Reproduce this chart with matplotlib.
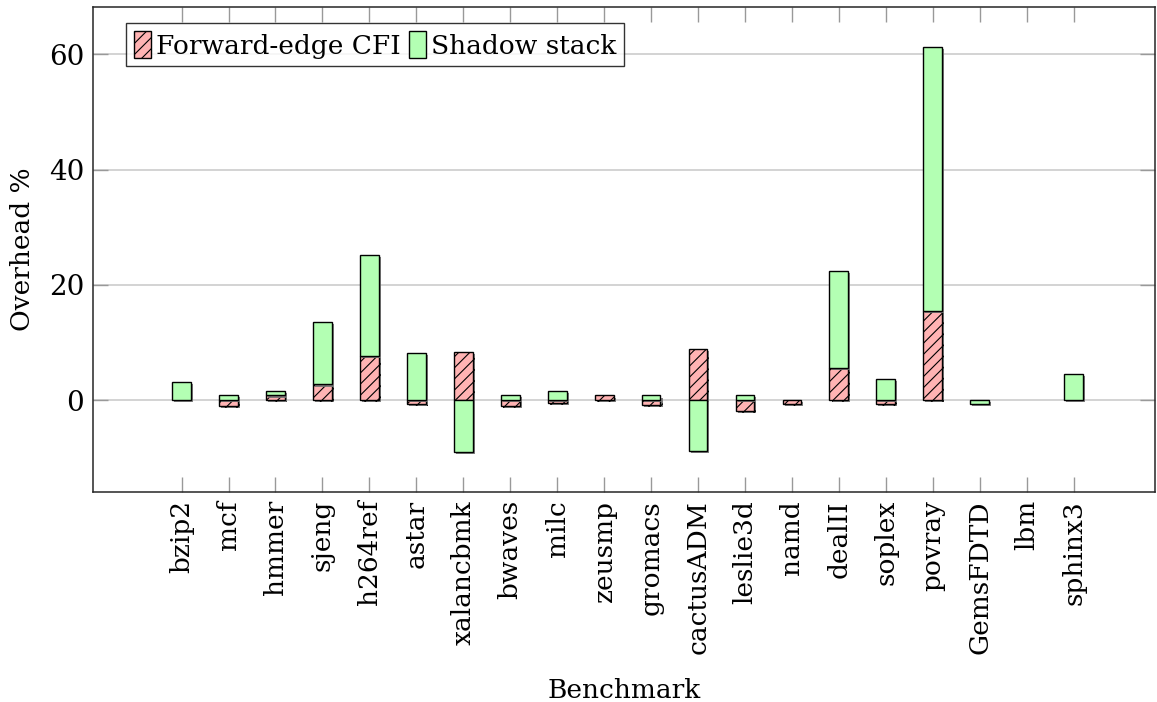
import numpy as np
import matplotlib
matplotlib.use('Agg')
import matplotlib.pyplot as plt
import matplotlib.patheffects as pe
from matplotlib.patches import Patch

plt.rcParams['font.family'] = ['DejaVu Serif']
plt.rcParams['hatch.linewidth'] = 0.8

benchmarks = ['bzip2', 'mcf', 'hmmer', 'sjeng', 'h264ref', 'astar', 'xalancbmk',
              'bwaves', 'milc', 'zeusmp', 'gromacs', 'cactusADM', 'leslie3d',
              'namd', 'dealII', 'soplex', 'povray', 'GemsFDTD', 'lbm', 'sphinx3']
cfi = [0.0, -1.0, 0.8, 2.7, 7.6, -0.6, 8.4, -1.05, -0.45, 0.8, -0.9, 8.8,
       -1.9, -0.7, 5.6, -0.7, 15.5, 0.0, 0.0, 0.0]
shadow = [3.2, 0.85, 0.75, 10.8, 17.5, 8.2, -9.0, 0.95, 1.55, 0.0, 0.8, -8.85,
          0.85, 0.0, 16.8, 3.6, 45.7, -0.6, 0.0, 4.6]

cfi = np.array(cfi)
shadow = np.array(shadow)
x = np.arange(len(benchmarks))
w = 0.4
red = '#ffb3b3'
green = '#b3ffb3'
fs = 19

fig = plt.figure(figsize=(11.57, 7.02), dpi=100)
ax = fig.add_axes([0.0801, 0.2996, 0.9184, 0.6909])

shadow_fx = [pe.SimplePatchShadow(offset=(1.5, -1.5), shadow_rgbFace='0.45', alpha=0.9),
             pe.Normal()]

# positive parts stack upward from zero, negative parts downward
pos_base = np.zeros(len(x))
neg_base = np.zeros(len(x))

cfi_bottom = np.where(cfi >= 0, pos_base, neg_base)
bars1 = ax.bar(x, cfi, w, bottom=cfi_bottom, color=red, edgecolor='black',
               hatch='///', linewidth=1.0, zorder=3)
pos_base += np.where(cfi > 0, cfi, 0)
neg_base += np.where(cfi < 0, cfi, 0)

sh_bottom = np.where(shadow >= 0, pos_base, neg_base)
bars2 = ax.bar(x, shadow, w, bottom=sh_bottom, color=green, edgecolor='black',
               linewidth=1.0, zorder=3)

for b, v in zip(list(bars1) + list(bars2), list(cfi) + list(shadow)):
    if v == 0:
        b.set_visible(False)
    else:
        b.set_path_effects(shadow_fx)

ax.set_xlim(-1.894, 20.74)
ax.set_ylim(-15.9, 68.26)
ax.set_yticks([0, 20, 40, 60])
ax.set_xticks(x)
ax.set_xticklabels(benchmarks, rotation=90, fontsize=fs)
ax.tick_params(axis='y', labelsize=20)
ax.tick_params(direction='in', length=10.5, width=1.0, color='0.6',
               top=True, right=True, pad=6)
ax.yaxis.grid(True, color='0.8', linewidth=1.2, zorder=0)
ax.set_axisbelow(True)
for s in ax.spines.values():
    s.set_color('0.15')
    s.set_linewidth(1.1)

ax.set_ylabel('Overhead %', fontsize=fs, labelpad=10)
ax.set_xlabel('Benchmark', fontsize=fs, labelpad=17)

handles = [Patch(facecolor=red, edgecolor='black', hatch='///', label='Forward-edge CFI'),
           Patch(facecolor=green, edgecolor='black', label='Shadow stack')]
leg = ax.legend(handles=handles, loc='upper left', ncol=2, fontsize=fs, frameon=True,
                fancybox=False, edgecolor='black', handlelength=0.65, handleheight=1.2,
                handletextpad=0.2, columnspacing=0.3, borderpad=0.3,
                bbox_to_anchor=(0.031, 0.966), borderaxespad=0)
leg.get_frame().set_linewidth(1.0)

fig.savefig('out.png', dpi=100)
